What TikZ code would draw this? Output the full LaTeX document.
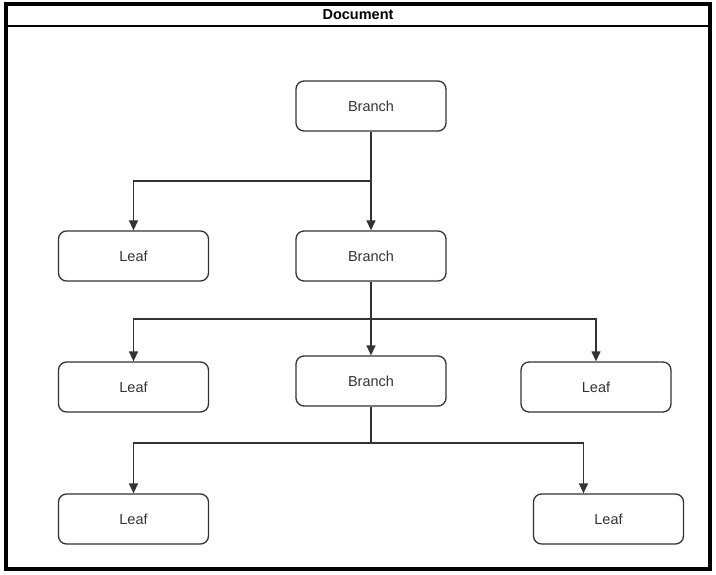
\documentclass[tikz,border=0pt]{standalone}
\usepackage{fontspec}
\setmainfont{Liberation Sans}
\usepackage{tikz}
\usetikzlibrary{arrows.meta}

\definecolor{boxgray}{HTML}{333333}

\tikzset{
	treebox/.style = {draw=boxgray, line width=1.3pt, rounded corners=8pt,
		minimum width=150pt, minimum height=50pt, inner sep=0pt,
		text=boxgray, font=\fontsize{14.5pt}{17pt}\selectfont},
	link/.style = {draw=boxgray, line width=1.3pt,
		-{Triangle[length=10pt,width=9pt]}},
	trunk/.style = {draw=boxgray, line width=1.3pt}
}

\begin{document}
\begin{tikzpicture}[x=1pt,y=-1pt]

	\useasboundingbox (0,0) rectangle (716,575);

	% frame and title
	\draw[line width=4pt] (6,4) rectangle (710,569);
	\draw[line width=1.3pt] (6,26) -- (710,26);
	\node[font=\bfseries\fontsize{14.5pt}{17pt}\selectfont] (title) at (358,15) {Document};

	% boxes
	\node[treebox] (br1) at (371,106) {Branch};
	\node[treebox] (lf1) at (133.5,256) {Leaf};
	\node[treebox] (br2) at (371,256) {Branch};
	\node[treebox] (lf2) at (133.5,387) {Leaf};
	\node[treebox] (br3) at (371,381) {Branch};
	\node[treebox] (lf3) at (596,387) {Leaf};
	\node[treebox] (lf4) at (133.5,519) {Leaf};
	\node[treebox] (lf5) at (608.5,519) {Leaf};

	% junctions
	\coordinate (j1) at (371,181);
	\coordinate (j2) at (371,319);
	\coordinate (j3) at (371,443);

	% connectors
	\draw[trunk] (br1.south) -- (j1);
	\draw[link] (j1) -- (br2.north);
	\draw[link] (j1) -| (lf1.north);

	\draw[trunk] (br2.south) -- (j2);
	\draw[link] (j2) -- (br3.north);
	\draw[link] (j2) -| (lf2.north);
	\draw[link] (j2) -| (lf3.north);

	\draw[trunk] (br3.south) -- (j3);
	\draw[link] (j3) -| (lf4.north);
	\draw[link] (j3) -| ([xshift=-25pt]lf5.north);

\end{tikzpicture}
\end{document}
